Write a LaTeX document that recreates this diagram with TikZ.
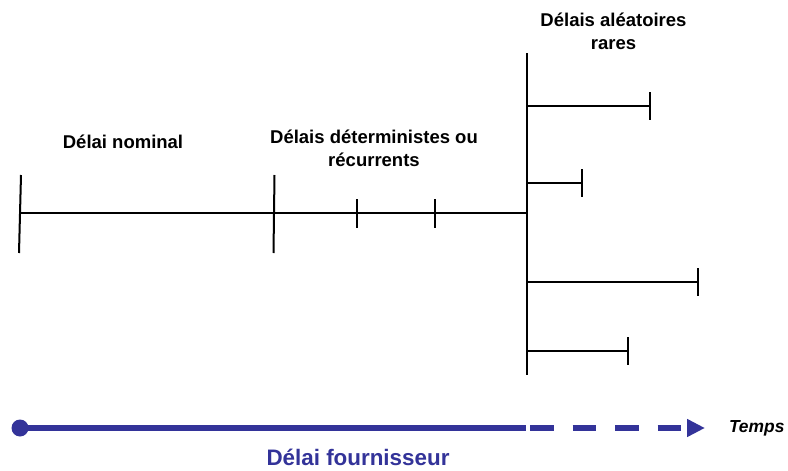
\documentclass[tikz,border=0pt]{standalone}
\usepackage{fontspec}
\setmainfont{Liberation Sans}
\usepackage{tikz}
\usepackage{xcolor}
\usetikzlibrary{arrows.meta, positioning, calc}
\definecolor{supplier}{RGB}{51, 51, 153}

\begin{document}
\begin{tikzpicture}[x=1pt, y=-1pt, line width=2pt,
    heading/.style={font=\fontsize{18.5}{23}\selectfont\bfseries,
                    align=center, inner sep=0pt}]
\useasboundingbox (0,0) rectangle (788,471);

% Nominal and recurrent delays
\coordinate (start) at (20,213);
\coordinate (nominal) at (274,213);
\coordinate (rec1) at (357,213);
\coordinate (rec2) at (435,213);
\coordinate (branch) at (527,213);
\draw (start) -- (branch);
\draw (start) ++(1,-38) -- ++(-2,78);
\draw (nominal) ++(0.5,-38) -- ++(-1,78);
\draw (rec1) ++(0,-14) -- ++(0,29);
\draw (rec2) ++(0,-14) -- ++(0,29);

\node[heading] (nominaltext) at (123,142) {Délai nominal};
\node[heading] (rectext) at (374,148.5) {Délais déterministes ou\\récurrents};

% Rare random delays
\coordinate (top) at (527,53);
\coordinate (bottom) at (527,375);
\draw (top) -- (bottom);

\coordinate (rare1) at (527,106);
\coordinate (rareend1) at (650,106);
\draw (rare1) -- (rareend1);
\draw (rareend1) ++(0,-14) -- ++(0,28);

\coordinate (rare2) at (527,183);
\coordinate (rareend2) at (582,183);
\draw (rare2) -- (rareend2);
\draw (rareend2) ++(0,-14) -- ++(0,28);

\coordinate (rare3) at (527,282);
\coordinate (rareend3) at (698,282);
\draw (rare3) -- (rareend3);
\draw (rareend3) ++(0,-14) -- ++(0,28);

\coordinate (rare4) at (527,351);
\coordinate (rareend4) at (628,351);
\draw (rare4) -- (rareend4);
\draw (rareend4) ++(0,-14) -- ++(0,28);

\node[heading] (raretext) at (613.5,31) {Délais aléatoires\\rares};

% Supplier lead time axis
\node[circle, fill=supplier, inner sep=0pt, minimum size=17pt] (origin) at (20,428) {};
\coordinate (now) at (526,428);
\coordinate (tip) at (705,428);
\draw[supplier, line width=6pt] (origin.center) -- (now);
\draw[supplier, line width=6pt, dash pattern=on 23.5pt off 19pt, dash phase=38.5pt,
      -{Triangle[length=18pt, width=17pt]}] (now) -- (tip);

\node[right=23pt of tip, inner sep=0pt,
      font=\fontsize{17.4}{20}\selectfont\bfseries\itshape] (temps) {Temps};
\node[inner sep=0pt, text=supplier,
      font=\fontsize{22.4}{26}\selectfont\bfseries] (leadtime) at (358,457) {Délai fournisseur};

\end{tikzpicture}
\end{document}
